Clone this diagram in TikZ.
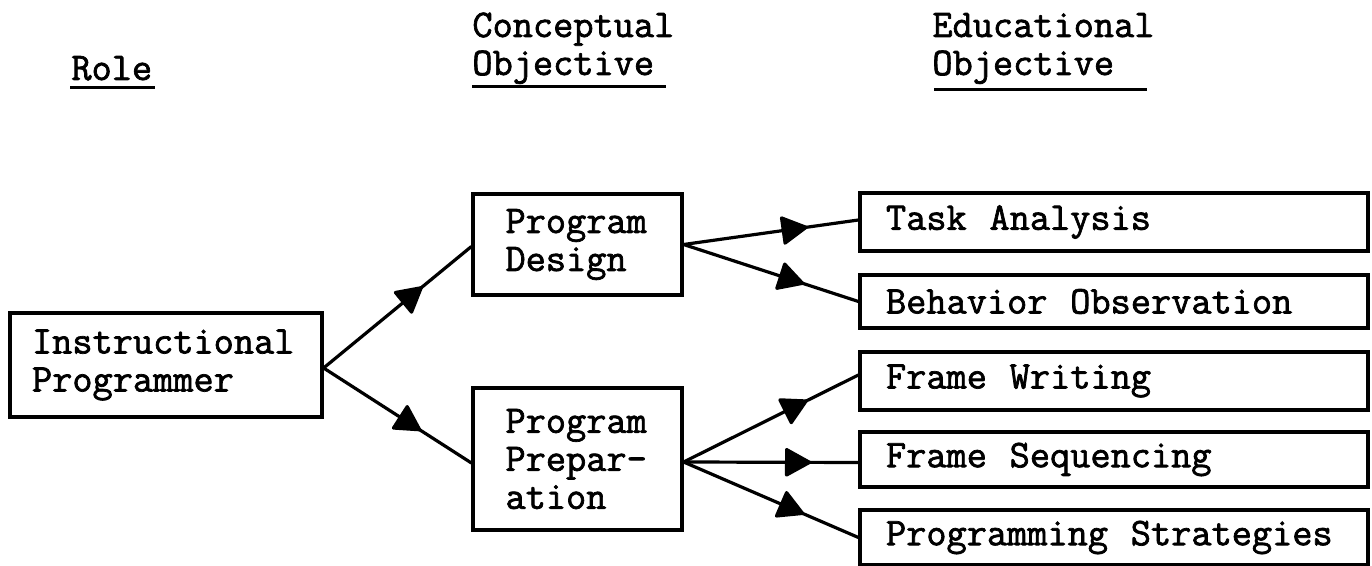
\documentclass[tikz,border=0pt]{standalone}
\usepackage{fontspec}
\newfontfamily\typewriter{Latin Modern Mono}[FakeBold=1.8]
\newcommand\typeset{\typewriter\fontsize{19.6}{19}\selectfont}
\usetikzlibrary{arrows.meta,decorations.markings}

\begin{document}
\begin{tikzpicture}[x=0.5pt,y=-0.5pt,
  txt/.style={font=\typeset,execute at begin node={\spaceskip=0.58em\relax}},
  box/.style={txt,draw,line width=1.6pt,inner xsep=0pt,inner ysep=0pt,
    align=left,minimum width=#1},
  head/.style={txt,anchor=base west,inner sep=0pt},
  rule/.style={line width=1.5pt},
  flow/.style={line width=1.6pt,postaction={decorate},
    decoration={markings,
      mark=at position #1 with {\arrow{Triangle[length=14pt,width=15pt,round]}}}},
  flow/.default=0.68
]
\useasboundingbox (0,0) rectangle (1372,566);

% column headings
\node[head] (role) at (71,80) {Role};
\node[head] (con1) at (472,37) {Conceptual};
\node[head] (con2) at (472,75) {Objective};
\node[head] (edu1) at (932,37) {Educational};
\node[head] (edu2) at (932,75) {Objective};
\draw[rule] ([shift={(-0.5pt,-4pt)}]role.base west) -- ([shift={(1pt,-4pt)}]role.base east);
\draw[rule] ([shift={(0pt,-6pt)}]con2.base west) -- ([shift={(6pt,-6pt)}]con2.base east);
\draw[rule] ([shift={(1pt,-7.5pt)}]edu2.base west) -- ([shift={(16pt,-7.5pt)}]edu2.base east);

% role
\node[box=156pt,text width=134pt,minimum height=52pt] (ip) at (166,365)
  {Instructional\\Programmer};

% conceptual objectives
\node[box=104.5pt,text width=72pt,minimum height=50.5pt] (pd) at (577.5,244.5)
  {Program\\Design};
\node[box=104.5pt,text width=72pt,minimum height=71pt] (pp) at (577.5,459)
  {Program\\Prepar-\\ation};

% educational objectives
\node[box=254pt,text width=228pt,minimum height=29pt]   (ta) at (1114,222)   {Task Analysis};
\node[box=254pt,text width=228pt,minimum height=26.5pt] (bo) at (1114,301.5) {Behavior Observation};
\node[box=254pt,text width=228pt,minimum height=29pt]   (fw) at (1114,381)   {Frame Writing};
\node[box=254pt,text width=228pt,minimum height=27.5pt] (fs) at (1114,459.5) {Frame Sequencing};
\node[box=254pt,text width=228pt,minimum height=27.5pt] (ps) at (1114,537.5) {Programming Strategies};

% connectors
\draw[flow=0.67] ([yshift=-1.5pt]ip.east) -- ([yshift=-1pt]pd.west);
\draw[flow=0.66] ([yshift=-1.5pt]ip.east) -- ([yshift=-2pt]pp.west);
\draw[flow=0.71] (pd.east) -- ([yshift=1pt]ta.west);
\draw[flow=0.69] (pd.east) -- (bo.west);
\draw[flow=0.71] ([yshift=-1.5pt]pp.east) -- ([yshift=3pt]fw.west);
\draw[flow=0.73] ([yshift=-1.5pt]pp.east) -- ([yshift=-1.5pt]fs.west);
\draw[flow=0.69] ([yshift=-1.5pt]pp.east) -- (ps.west);
\end{tikzpicture}
\end{document}
